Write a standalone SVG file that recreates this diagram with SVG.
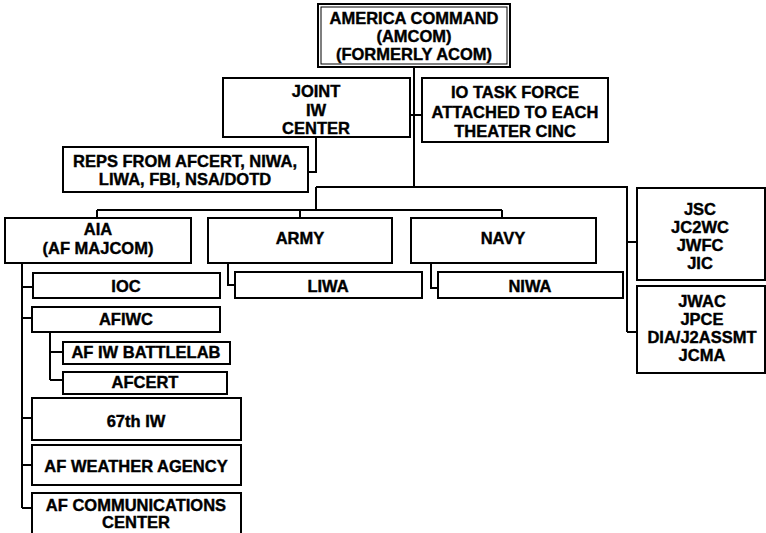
<svg xmlns="http://www.w3.org/2000/svg" width="766" height="533" viewBox="0 0 766 533">
<style>
.box{fill:#fff;stroke:#000;stroke-width:2}
.c{fill:none;stroke:#000;stroke-width:2}
text{font-family:"Liberation Sans",Arial,sans-serif;font-weight:bold;font-size:16.5px;text-anchor:middle;fill:#000;stroke:#000;stroke-width:0.4}
</style>
<rect width="766" height="533" fill="#fff"/>
<g id="connectors">
<path class="c" d="M414 67V187M410 115H422M316 137V172H308M316 187H627V332M627 242H637M627 332H637M316 187V210M97 210H502M97 210V218M300 210V218M502 210V218M228 263V285H235M431 263V288H438M22 263V508M22 287H33M22 318H32M50 332V380M50 352H63M50 380H63M22 418H32M22 465H32M22 508H32"/>
</g>
<g id="amcom"><rect class="box" x="318" y="4" width="192" height="63"/><rect x="321" y="7" width="186" height="57" fill="none" stroke="#000" stroke-width="1"/>
<text x="414" y="24">AMERICA COMMAND</text><text x="414" y="42">(AMCOM)</text><text x="414" y="60">(FORMERLY ACOM)</text></g>
<g id="jiwc"><rect class="box" x="223" y="78" width="187" height="59"/>
<text x="316" y="97">JOINT</text><text x="316" y="116">IW</text><text x="316" y="134">CENTER</text></g>
<g id="iotf"><rect class="box" x="422" y="78" width="186" height="64"/>
<text x="515" y="98">IO TASK FORCE</text><text x="515" y="118">ATTACHED TO EACH</text><text x="515" y="137">THEATER CINC</text></g>
<g id="reps"><rect class="box" x="63" y="147" width="245" height="45"/>
<text x="185" y="167">REPS FROM AFCERT, NIWA,</text><text x="185" y="185">LIWA, FBI, NSA/DOTD</text></g>
<g id="aia"><rect class="box" x="5" y="218" width="186" height="45"/>
<text x="98" y="235">AIA</text><text x="98" y="254">(AF MAJCOM)</text></g>
<g id="army"><rect class="box" x="208" y="218" width="184" height="45"/><text x="300" y="244">ARMY</text></g>
<g id="navy"><rect class="box" x="411" y="218" width="185" height="45"/><text x="503" y="244">NAVY</text></g>
<g id="liwa"><rect class="box" x="235" y="272" width="187" height="26"/><text x="328" y="292">LIWA</text></g>
<g id="niwa"><rect class="box" x="438" y="272" width="185" height="26"/><text x="530" y="292">NIWA</text></g>
<g id="ioc"><rect class="box" x="33" y="273" width="187" height="25"/><text x="126" y="292">IOC</text></g>
<g id="afiwc"><rect class="box" x="32" y="307" width="188" height="25"/><text x="126" y="325">AFIWC</text></g>
<g id="battlelab"><rect class="box" x="63" y="342" width="167" height="22"/><text x="146" y="358">AF IW BATTLELAB</text></g>
<g id="afcert"><rect class="box" x="63" y="372" width="164" height="22"/><text x="145" y="388">AFCERT</text></g>
<g id="iw67"><rect class="box" x="32" y="398" width="209" height="42"/><text x="136" y="427">67th IW</text></g>
<g id="weather"><rect class="box" x="32" y="445" width="209" height="40"/><text x="136" y="472">AF WEATHER AGENCY</text></g>
<g id="comms"><rect class="box" x="32" y="493" width="209" height="45"/><text x="136" y="511">AF COMMUNICATIONS</text><text x="136" y="528">CENTER</text></g>
<g id="jsc"><rect class="box" x="637" y="188" width="128" height="92"/>
<text x="700" y="215">JSC</text><text x="700" y="233">JC2WC</text><text x="700" y="251">JWFC</text><text x="700" y="269">JIC</text></g>
<g id="jwac"><rect class="box" x="637" y="286" width="128" height="87"/>
<text x="702" y="307">JWAC</text><text x="702" y="325">JPCE</text><text x="702" y="343">DIA/J2ASSMT</text><text x="702" y="361">JCMA</text></g>
</svg>
